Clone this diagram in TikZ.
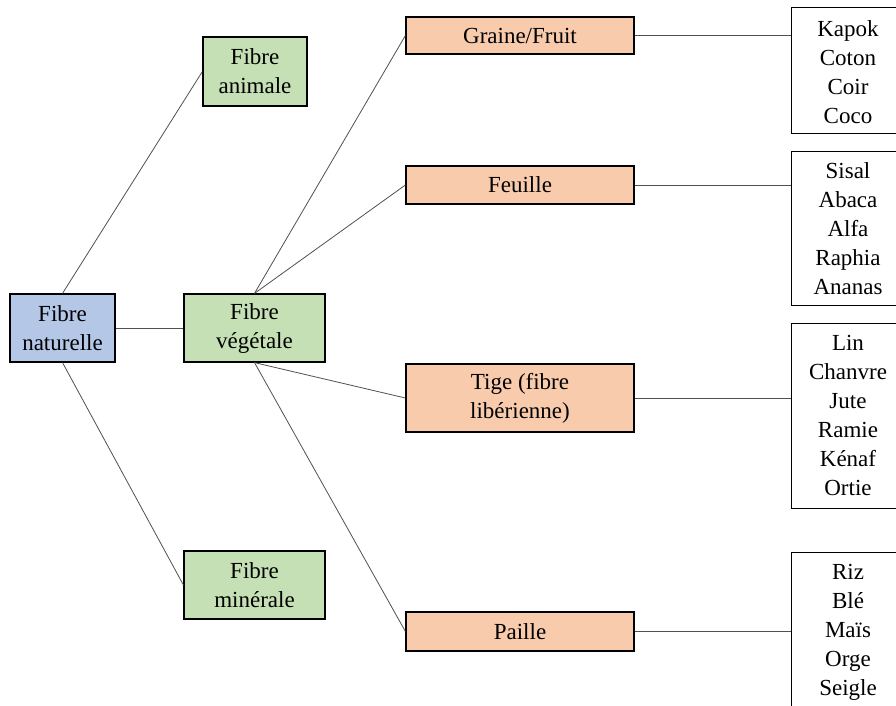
\documentclass[tikz,border=0pt]{standalone}
\usepackage{fontspec}
\setmainfont{Liberation Serif}
\definecolor{cblue}{HTML}{B4C7E7}
\definecolor{cgreen}{HTML}{C5E0B4}
\definecolor{corange}{HTML}{F8CBAD}
\definecolor{cline}{HTML}{505050}
\tikzset{
  box/.style={draw=black, line width=1.2pt, rectangle, inner sep=0pt, align=center,
    font=\fontsize{23}{29}\selectfont},
  conn/.style={draw=cline, line width=0.8pt},
}
\begin{document}
\begin{tikzpicture}[x=1pt,y=-1pt]
\useasboundingbox (0,0) rectangle (896,706);
% level 1
\node[box, fill=cblue, minimum width=105, minimum height=68] (nat) at (62.5,328) {Fibre\\naturelle};
% level 2
\node[box, fill=cgreen, minimum width=104, minimum height=69] (ani) at (255,71.5) {Fibre\\animale};
\node[box, fill=cgreen, minimum width=141, minimum height=68] (veg) at (254.5,328) {Fibre\\végétale};
\node[box, fill=cgreen, minimum width=141, minimum height=68] (min) at (254.5,585) {Fibre\\minérale};
% level 3
\node[box, fill=corange, minimum width=228, minimum height=37] (gra) at (520,35.5) {Graine/Fruit};
\node[box, fill=corange, minimum width=228, minimum height=38] (feu) at (520,185) {Feuille};
\node[box, fill=corange, minimum width=228, minimum height=68] (tig) at (520,398) {Tige (fibre\\libérienne)};
\node[box, fill=corange, minimum width=228, minimum height=39] (pai) at (520,631.5) {Paille};
% lists
\node[box, fill=white, minimum width=120, minimum height=126, anchor=north west] (l1) at (791,7) {};
\node[box, fill=white, minimum width=120, minimum height=154, anchor=north west] (l2) at (791,151) {};
\node[box, fill=white, minimum width=120, minimum height=185, anchor=north west] (l3) at (791,323) {};
\node[box, fill=white, minimum width=120, minimum height=170, anchor=north west] (l4) at (791,552) {};
\node[box, draw=none, anchor=north] (l1t) at (848,20) {Kapok\\Coton\\Coir\\Coco};
\node[box, draw=none, anchor=north] (l2t) at (848,162) {Sisal\\Abaca\\Alfa\\Raphia\\Ananas};
\node[box, draw=none, anchor=north] (l3t) at (848,335) {Lin\\Chanvre\\Jute\\Ramie\\Kénaf\\Ortie};
\node[box, draw=none, anchor=north] (l4t) at (848,564) {Riz\\Blé\\Maïs\\Orge\\Seigle};
% connectors
\draw[conn] (nat.north) -- (ani.west);
\draw[conn] (nat.east) -- (veg.west);
\draw[conn] (nat.south) -- (min.west);
\draw[conn] (veg.north) -- (gra.west);
\draw[conn] (veg.north) -- (feu.west);
\draw[conn] (veg.south) -- (tig.west);
\draw[conn] (veg.south) -- (pai.west);
\draw[conn] (gra.east) -- (l1.west |- gra.east);
\draw[conn] (feu.east) -- (l2.west |- feu.east);
\draw[conn] (tig.east) -- (l3.west |- tig.east);
\draw[conn] (pai.east) -- (l4.west |- pai.east);
\end{tikzpicture}
\end{document}
